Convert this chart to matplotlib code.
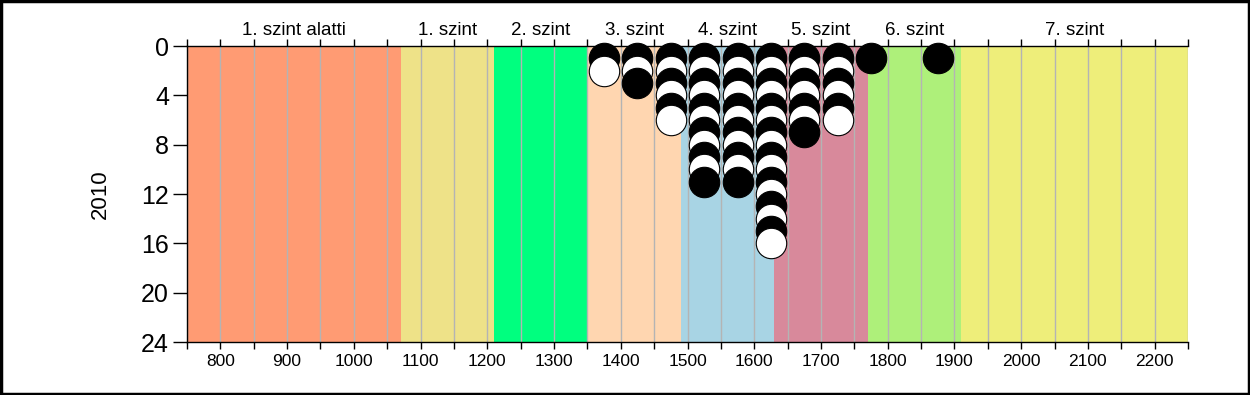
import matplotlib
matplotlib.use("Agg")
import matplotlib.pyplot as plt
import matplotlib.transforms as mtransforms
import numpy as np

plt.rcParams['font.family'] = ['Liberation Sans', 'DejaVu Sans']

# Data
band_edges = [750, 1070, 1210, 1350, 1490, 1630, 1770, 1910, 2250]
band_names = ["1. szint alatti", "1. szint", "2. szint", "3. szint",
              "4. szint", "5. szint", "6. szint", "7. szint"]
band_colors = ["#FF9B73", "#EEE288", "#00FF7F", "#FFD6B0",
               "#A8D4E4", "#D8899B", "#AEF07A", "#EEEE7A"]
col_x = [1375, 1425, 1475, 1525, 1575, 1625, 1675, 1725, 1775, 1875]
col_counts = [2, 3, 6, 11, 11, 16, 7, 6, 1, 1]
y_label = "2010"
xticks_major = list(range(800, 2201, 100))
yticks = [0, 4, 8, 12, 16, 20, 24]

fig = plt.figure(figsize=(12.5, 3.95), dpi=100)
ax = fig.add_axes([187/1250, 1-342/395, (1188-187)/1250, (342-46)/395])

for i in range(len(band_names)):
    ax.axvspan(band_edges[i], band_edges[i+1], color=band_colors[i], lw=0, zorder=0)

ax.set_xlim(band_edges[0], band_edges[-1])
ax.set_ylim(24, 0)

ax.set_xticks(xticks_major)
ax.set_xticks(list(range(750, 2251, 50)), minor=True)
ax.tick_params(axis='x', which='both', top=True, bottom=True, direction='out',
               length=5, width=1, labelsize=12.5, pad=4)
ax.tick_params(axis='x', which='both', labeltop=False)
ax.set_yticks(yticks)
ax.tick_params(axis='y', direction='out', length=10, width=1, labelsize=18, pad=3)
ax.grid(axis='x', which='both', color='#B4B4B4', lw=1, zorder=1)
ax.set_axisbelow(True)
ax.spines['right'].set_visible(False)
for s in ['left', 'top', 'bottom']:
    ax.spines[s].set_linewidth(1)

for x, n in zip(col_x, col_counts):
    for k in range(1, n+1):
        c = 'black' if k % 2 == 1 else 'white'
        ax.scatter([x], [k], s=480, facecolor=c, edgecolor='black', lw=0.8,
                   zorder=3 + k * 0.01, clip_on=False)

trans = mtransforms.blended_transform_factory(ax.transData, ax.transAxes)
for i, name in enumerate(band_names):
    cx = (band_edges[i] + band_edges[i+1]) / 2
    ax.text(cx, 1.0 + 16/296, name, transform=trans, ha='center', va='center',
            fontsize=13.5)

fig.text(100/1250, 1-194/395, y_label, rotation=90, ha='center', va='center', fontsize=16)

fig.patches.append(plt.Rectangle((0.001, 0.002), 0.998, 0.996, transform=fig.transFigure,
                                 fill=False, edgecolor='black', lw=2.5))

fig.savefig("out.png", dpi=100)
